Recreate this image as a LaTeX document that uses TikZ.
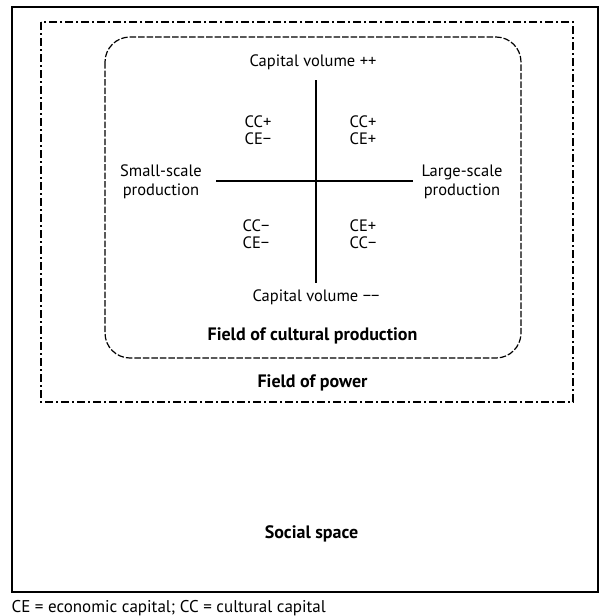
\documentclass[tikz,border=0pt]{standalone}
\usepackage{fontspec}
\setmainfont{PT Sans}
\usepackage{tikz}

\begin{document}
\begin{tikzpicture}[x=1pt,y=-1pt,line width=1.2pt,
    every node/.style={font=\fontsize{16.5}{17.5}\selectfont, align=center, inner sep=0pt},
    sidelabel/.style={font=\fontsize{16.5}{19.5}\selectfont},
    fieldlabel/.style={font=\fontsize{18}{20}\selectfont\bfseries}]
    \useasboundingbox (0,0) rectangle (607,616);

    \coordinate (S1) at (12, 7);
    \coordinate (S2) at (598, 592);
    \coordinate (P1) at (41, 22);
    \coordinate (P2) at (573, 402);
    \coordinate (C1) at (105, 37);
    \coordinate (C2) at (521, 358);

    \coordinate (V1) at (316, 80);
    \coordinate (V2) at (316, 283);
    \coordinate (H1) at (216, 181);
    \coordinate (H2) at (413, 181);

    \draw (S1) rectangle (S2);
    \draw[dash pattern=on 8pt off 3pt on 2pt off 3pt] (P1) rectangle (P2);
    \draw[dash pattern=on 6.5pt off 2pt, rounded corners=25pt] (C1) rectangle (C2);
    \draw (V1) -- (V2);
    \draw (H1) -- (H2);

%labels
    \node (top) at (313, 62) {Capital volume ++};
    \node (bottom) at (316, 297) {Capital volume −−};
    \node[sidelabel] (small) at (161, 182) {Small-scale\\production};
    \node[sidelabel] (large) at (462, 182) {Large-scale\\production};

    \node (q1) at (258, 130) {CC+\\CE−};
    \node (q2) at (363, 130) {CC+\\CE+};
    \node (q3) at (256, 234) {CC−\\CE−};
    \node (q4) at (363, 234) {CE+\\CC−};

    \node[fieldlabel] (cultural) at (312.5, 336) {Field of cultural production};
    \node[fieldlabel] (power) at (312.5, 383) {Field of power};
    \node[fieldlabel] (social) at (311.5, 534) {Social space};

    \node[anchor=west, font=\fontsize{17}{19}\selectfont] (legend) at (11, 608) {CE = economic capital; CC = cultural capital};

\end{tikzpicture}
\end{document}
